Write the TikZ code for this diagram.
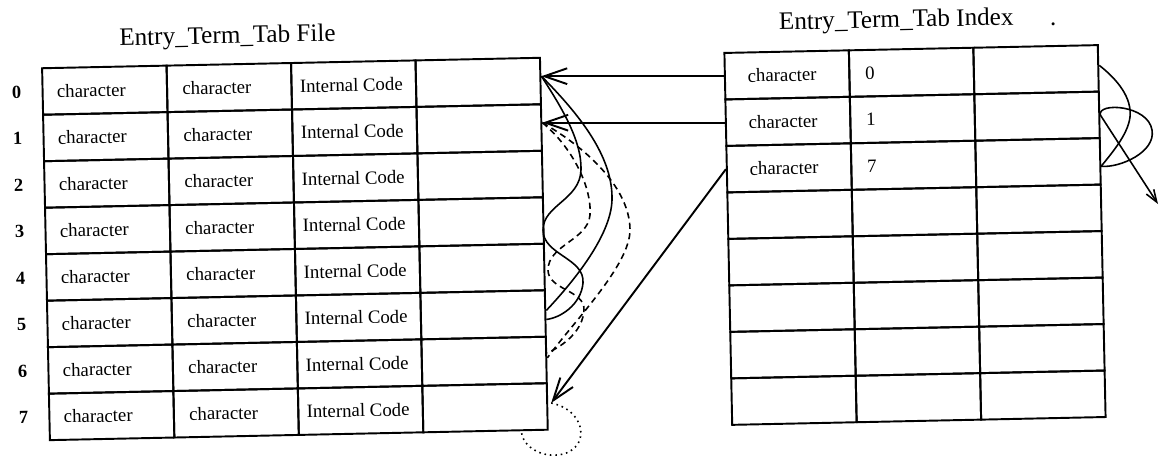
\documentclass[tikz,border=0pt]{standalone}
\usepackage{fontspec}
\setmainfont{Liberation Serif}
\usetikzlibrary{positioning,arrows.meta}

\tikzset{
  cell/.style={draw, line width=1.1pt, minimum width=2.49cm, minimum height=0.93cm, inner sep=0pt},
  entry/.style={inner sep=0pt, font=\fontsize{10.7}{12}\selectfont},
  rownum/.style={inner sep=0pt, font=\bfseries\fontsize{10.5}{12}\selectfont},
  heading/.style={anchor=base, inner sep=0pt, font=\fontsize{14.3}{16}\selectfont},
  ptr/.style={line width=1.1pt, -{Straight Barb[length=13pt,width=9pt]}},
  chain/.style={line width=0.9pt},
  chaindash/.style={chain, dash pattern=on 3.5pt off 2.5pt},
  chaindot/.style={chain, dash pattern=on 0.9pt off 2.2pt},
}

\begin{document}
\begin{tikzpicture}[x=0.02cm, y=-0.02cm]
\useasboundingbox (0,0) rectangle (1160,456);

% both tables, turned a little like the sheet they sit on
\begin{scope}[rotate around={1.2:(580,250)}, transform shape]
\node[heading] (ftitle) at (232,36) {Entry\_Term\_Tab File};
\node[heading] (ititle) at (901,34) {Entry\_Term\_Tab Index};
\node[heading] (idot) at (1058,35) {.};

% file: eight records, four fields each
\foreach \r in {0,...,7}{
  \foreach \c in {1,...,4}
    \node[cell] (f\r-\c) at (-16.25+124.5*\c, 80.25+46.5*\r) {};
  \node[rownum, left=0.4cm of f\r-1] (n\r) {\r};
  \node[entry, right=0.3cm of f\r-1.west] (fa\r) {character};
  \node[entry, right=0.32cm of f\r-2.west] (fb\r) {character};
  \node[entry, right=0.18cm of f\r-3.west] (fc\r) {Internal Code};
}

% index: eight slots, three fields each
\foreach \r in {0,...,7}
  \foreach \c in {1,2,3}
    \node[cell] (i\r-\c) at (666.25+124.5*\c, 79.25+46.5*\r) {};
\foreach \r/\k in {0/0, 1/1, 2/7}{
  \node[entry, right=0.47cm of i\r-1.west] (ia\r) {character};
  \node[entry, right=0.33cm of i\r-2.west] (ib\r) {\k};
}
\end{scope}

% index slots point into the file
\coordinate (t0) at (f0-4.east |- i0-1.west);
\coordinate (t1) at (f1-4.east |- i1-1.west);
\coordinate (t7) at ([shift={(3,-3.5)}]f7-4.east);
\draw[ptr] (i0-1.west) -- (t0);
\draw[ptr] (i1-1.west) -- (t1);
\draw[ptr] (i2-1.west) -- (t7);

% chains between records of the file
\draw[chain] (t0) .. controls (560,105) and (582,140) .. (581,170)
  .. controls (580,200) and (543,205) .. (543,230)
  .. controls (543,255) and (585,258) .. (583,283)
  .. controls (581,305) and (560,318) .. ([yshift=-0.12cm]f5-4.east);
\draw[chain] (t0) .. controls (585,120) and (613,160) .. (612,200)
  .. controls (611,235) and (575,280) .. ([yshift=0.06cm]f5-4.east);
\draw[chaindash] (t1) .. controls (570,145) and (592,185) .. (590,215)
  .. controls (588,240) and (548,245) .. (548,270)
  .. controls (548,290) and (585,290) .. (584,310)
  .. controls (583,330) and (565,345) .. ([yshift=0.14cm]f6-4.east);
\draw[chaindash] (t1) .. controls (590,150) and (630,190) .. (630,230)
  .. controls (630,265) and (575,320) .. ([yshift=0.04cm]f6-4.east);
\draw[chaindot] (t7) .. controls (592,412) and (590,458) .. (550,455)
  .. controls (532,453) and (522,442) .. ([xshift=-0.55cm]f7-4.south east);

% chains on the index side
\coordinate (off) at (1158,204);
\draw[chain] ([yshift=0.06cm]i0-3.east) .. controls (1118,80) and (1132,98) .. (1130,117)
  .. controls (1128,135) and (1110,155) .. ([yshift=-0.1cm]i2-3.east);
\draw[chain] (i1-3.east) .. controls (1098,102) and (1148,105) .. (1152,130)
  .. controls (1156,152) and (1120,168) .. ([yshift=-0.1cm]i2-3.east);
\draw[chain, -{Straight Barb[length=7pt,width=5pt]}] (i1-3.east) -- (off);
\end{tikzpicture}
\end{document}
